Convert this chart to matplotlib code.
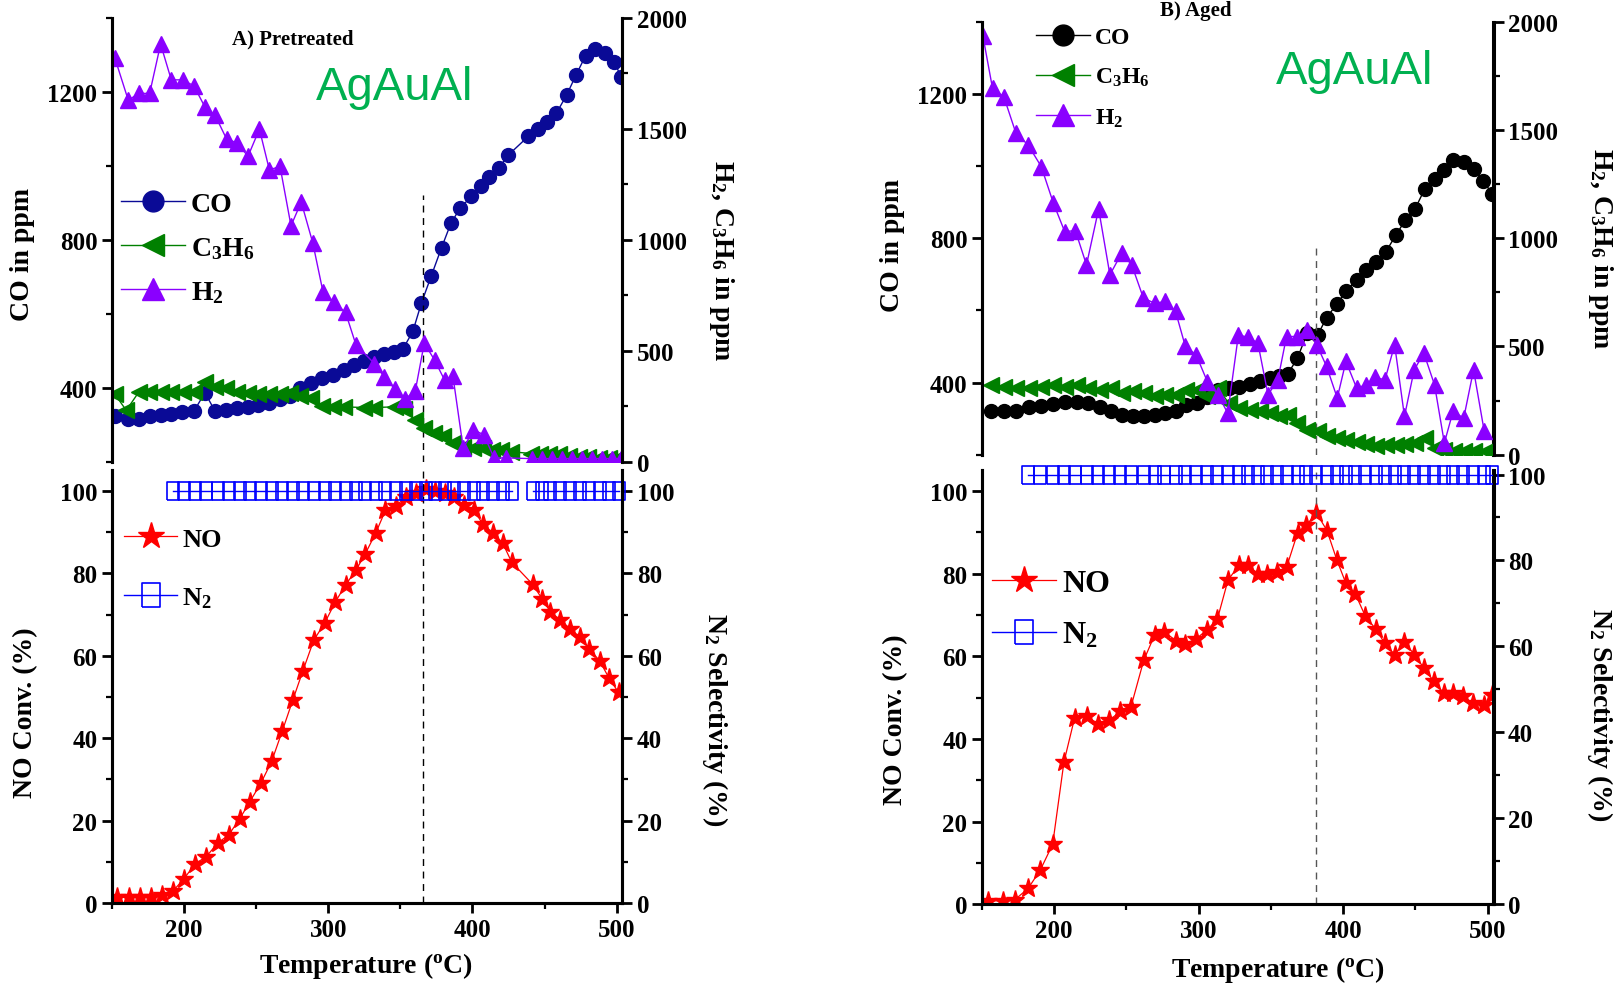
import numpy as np
import matplotlib
matplotlib.use("Agg")
import matplotlib.pyplot as plt
from matplotlib.ticker import MultipleLocator

plt.rcParams['font.family'] = ['Liberation Serif', 'DejaVu Serif']
plt.rcParams['font.weight'] = 'bold'
plt.rcParams['mathtext.fontset'] = 'custom'
plt.rcParams['mathtext.rm'] = 'Liberation Serif:bold'
plt.rcParams['mathtext.it'] = 'Liberation Serif:bold'
plt.rcParams['mathtext.bf'] = 'Liberation Serif:bold'
plt.rcParams['mathtext.default'] = 'rm'

# ---------------- A) Pretreated ----------------
T_co_a = [152, 161.4, 168.5, 176.2, 183.8, 191.2, 198.9, 206.9, 214.5, 221.6,
          228.8, 236.7, 244.4, 251.5, 259.2, 266.6, 273.4, 280.5, 287.9, 295.6,
          303.2, 310.6, 317.7, 324.8, 332, 339, 345.3, 351.8, 358.7, 364.6,
          371.5, 378.6, 385.1, 391.7, 399.3, 405.6, 411.6, 418.4, 424.9, 438.6,
          445.4, 451.9, 458.2, 465.3, 471.8, 478.4, 485.2, 491.7, 498.3, 503]
co_a = [324, 317, 317, 324, 326, 330, 334, 337, 387, 337,
        340, 346, 349, 355, 360, 369, 378, 400, 413, 427,
        436, 449, 463, 472, 483, 492, 496, 505, 553, 629,
        703, 779, 845, 887, 917, 944, 969, 995, 1029, 1079,
        1098, 1119, 1142, 1191, 1245, 1297, 1314, 1305, 1281, 1240]

T_c3_a = [152, 160, 168.5, 176, 183.8, 191.2, 199, 206.9, 214.5, 221.6,
          228.8, 236.7, 244.4, 251.5, 259.2, 266.6, 273.4, 280.5, 287.9, 295.6,
          303.2, 310.6, 324.8, 332, 346, 352.4, 360.4, 366.6, 373.2, 379.4,
          386.5, 393.6, 400.7, 407, 413.5, 420, 427, 440.6, 446.8, 453.3,
          460, 467, 474, 480.4, 487.5, 494.5, 500.8]
c3_a = [306, 232, 313, 313, 313, 313, 316, 316, 362, 336,
        332, 316, 309, 306, 306, 306, 309, 298, 290, 252,
        248, 248, 245, 245, 248, 240, 187, 153, 130, 115,
        84, 69, 61, 61, 54, 54, 46, 38, 38, 34,
        34, 28, 23, 23, 18, 18, 18]

T_h2_a = [152, 161.4, 168.5, 176.2, 183.8, 191.2, 199, 206.9, 214.5, 221.6,
          229.6, 236.7, 244.4, 252.3, 259.2, 266.6, 274.2, 281.3, 289.3, 296.4,
          304.1, 312, 319.2, 332, 339, 346.1, 353.3, 360.4, 366.6, 373.7,
          380.8, 386.5, 393.6, 400.7, 407.9, 415, 423.5, 441.4, 448, 455,
          462, 469, 476, 483, 490, 497, 503]
h2_a = [1820, 1628, 1659, 1659, 1881, 1720, 1720, 1693, 1598, 1560,
        1453, 1437, 1376, 1498, 1315, 1330, 1063, 1170, 986, 765,
        719, 673, 528, 443, 382, 329, 283, 321, 535, 459,
        367, 385, 61, 145, 122, 18, 18, 15, 15, 15,
        15, 15, 15, 15, 15, 15, 15]

T_no_a = [153.5, 161.6, 169.8, 177.3, 185, 192.5, 200, 207.8, 215.3, 223.4,
          230.9, 238.7, 245.5, 253.3, 260.8, 268.2, 275.4, 282.5, 290, 297.5,
          305, 312.1, 319.3, 325.8, 333, 339.7, 346.9, 354, 361, 368,
          374, 381, 387, 394, 401.2, 407, 414.2, 421, 427.2, 441.8,
          448.3, 454.1, 461, 467.5, 474.6, 481.1, 488.3, 494.8, 501.3]
no_a = [1.4, 1.4, 1.4, 1.4, 1.9, 3, 5.9, 9.6, 11.2, 14.6,
        16.5, 20.5, 24.5, 29.1, 34.4, 41.8, 49.2, 56.4, 63.8, 67.9,
        73.1, 77.2, 80.8, 84.8, 89.8, 95.3, 96.4, 98.5, 99.5, 100.5,
        100, 99.5, 98.5, 96.6, 95.3, 92, 89.8, 87.3, 82.7, 77.3,
        73.8, 70.6, 68.7, 66.6, 64.5, 61.7, 58.7, 54.5, 51.1]

# N2 selectivity, two blocks (gap near 434 C)
T_n2_a1 = T_no_a[5:39]
T_n2_a2 = T_no_a[39:]
n2_a1 = [100] * len(T_n2_a1)
n2_a2 = [100] * len(T_n2_a2)

# ---------------- B) Aged ----------------
T_co_b = [156, 165.2, 173.6, 182.7, 191.1, 199.5, 207.3, 215.7, 223.4, 231.5,
          239.3, 247, 254.4, 262.2, 269.6, 277, 284, 291.5, 298.9, 306,
          313.4, 320.8, 327.8, 335.2, 342.7, 349.7, 355.5, 361.5, 368.3, 375,
          382.4, 388.5, 395.9, 401.9, 409.3, 416.1, 422.8, 429.5, 436.3, 443,
          449.8, 456.5, 463.2, 470, 476, 483.4, 490.2, 496.9, 503]
co_b = [322, 322, 322, 331, 336, 340, 347, 347, 343, 331,
        320, 311, 306, 306, 311, 315, 322, 338, 343, 360,
        380, 384, 389, 395, 403, 412, 417, 423, 467, 536,
        532, 580, 619, 654, 684, 712, 735, 762, 808, 850,
        882, 937, 965, 988, 1016, 1011, 993, 960, 923]

T_c3_b = [156, 165, 173.6, 182.7, 191, 199.5, 207.3, 215.7, 223.4, 231.5,
          239.3, 247, 254.4, 262.2, 269.6, 277, 284, 291.5, 298.9, 306,
          313.4, 320.8, 327.8, 335.2, 342.7, 349.7, 355.5, 361.5, 368.3, 375,
          382.4, 388.5, 396, 402, 409.3, 416, 422.8, 429.5, 436.3, 443,
          449.8, 456.5, 463.2, 470, 476.7, 483.4, 490.8, 498.6]
c3_b = [323, 315, 308, 308, 315, 323, 315, 323, 308, 300,
        308, 285, 292, 285, 269, 277, 277, 300, 300, 269,
        308, 238, 215, 208, 200, 192, 177, 185, 146, 115,
        108, 85, 77, 69, 58, 49, 38, 46, 46, 49,
        54, 77, 31, 23, 18, 18, 18, 18]

T_h2_b = [150.7, 157.4, 165.2, 173.6, 182, 191.1, 199.5, 207.3, 214.7, 222.4,
          230.8, 238.6, 246.7, 253.7, 261.8, 269.6, 277, 284, 290.8, 298.2,
          306, 313.4, 320.1, 327.5, 334.2, 341, 348, 354.8, 360.8, 368.3,
          375, 381.7, 388.5, 395.9, 401.9, 409.3, 416.1, 422.1, 428.9, 435.6,
          442.4, 449.1, 455.8, 463.2, 470, 476, 483.4, 490.2, 497.6]
h2_b = [1935, 1692, 1654, 1485, 1431, 1331, 1162, 1031, 1035, 877,
        1135, 831, 931, 877, 723, 700, 708, 662, 500, 462,
        338, 277, 192, 554, 542, 515, 277, 346, 546, 546,
        577, 508, 408, 262, 431, 308, 323, 357, 346, 508,
        177, 392, 469, 323, 54, 200, 169, 392, 108]

T_no_b = [154.2, 164.4, 172.9, 182, 190.5, 199, 206.8, 214.2, 222.7, 230.5,
          238.3, 245.8, 253.2, 262, 269.5, 276.3, 284.1, 290.8, 298.3, 305.8,
          312.9, 320.3, 327.8, 333.9, 341.4, 347.5, 354.2, 361, 368.5, 374.6,
          381.4, 388.8, 395.6, 401.7, 408.5, 415.3, 422.7, 428.8, 435.6, 442.4,
          449.2, 455.9, 462.7, 469.5, 476.3, 483, 489.8, 497.6, 502.7]
no_b = [0.8, 0.8, 1.1, 3.8, 8.3, 14.5, 34.4, 45.1, 45.6, 43.5,
        44.5, 46.7, 47.8, 59, 65.1, 65.9, 63.8, 63, 64.2, 66.4,
        68.9, 78.4, 82, 82, 79.9, 79.9, 80.3, 81.7, 89.9, 91.7,
        94.7, 90.4, 83.3, 77.8, 75, 69.7, 66.5, 63.1, 60.4, 63.4,
        60.4, 57.1, 53.9, 51.1, 51.1, 50.3, 48.6, 48.2, 50.7]

T_n2_b = T_no_b[3:]
n2_b = [100] * len(T_n2_b)

# ---------------- figure ----------------
W, H = 1568, 953
fig = plt.figure(figsize=(16.24, 9.87), dpi=100)


def rect(x0, y0, x1, y1):
    return [x0 / W, 1 - y1 / H, (x1 - x0) / W, (y1 - y0) / H]


GREEN = '#008000'
PURPLE = '#8a00ff'
RED = '#ff0000'
BLUE = '#0000ff'
TALL_BOX = [(-0.36, -0.5), (0.36, -0.5), (0.36, 0.5), (-0.36, 0.5), (-0.36, -0.5)]


def style(ax):
    ax.tick_params(which='major', direction='out', length=7, width=2, labelsize=18)
    ax.tick_params(which='minor', direction='out', length=4, width=1.6)
    for s in ax.spines.values():
        s.set_linewidth(2.2)


def panel(top_box, bot_box, co_color, T_co, co, T_c3, c3, T_h2, h2,
          T_no, no, n2_blocks, r2_top, t_dash, dash_frac, dash_color,
          leg_top, leg_top_fs, leg_top_sp, leg_bot, leg_bot_fs, leg_bot_sp):
    # upper: CO (left), C3H6 + H2 (right)
    ax = fig.add_axes(rect(*top_box))
    ax2 = ax.twinx()
    l1, = ax.plot(T_co, co, '-o', color=co_color, ms=10, lw=1, label='CO')
    l2, = ax2.plot(T_c3, c3, '-<', color=GREEN, ms=11, lw=1, label='C$_3$H$_6$')
    l3, = ax2.plot(T_h2, h2, '-^', color=PURPLE, ms=11, lw=1, label='H$_2$')
    ax.set_xlim(150, 504)
    ax.set_ylim(200, 1400)
    ax2.set_ylim(0, 2000)
    ax.yaxis.set_major_locator(MultipleLocator(400))
    ax.yaxis.set_minor_locator(MultipleLocator(200))
    ax2.yaxis.set_major_locator(MultipleLocator(500))
    ax2.yaxis.set_minor_locator(MultipleLocator(250))
    for a in (ax, ax2):
        style(a)
        a.spines['top'].set_visible(False)
        a.spines['bottom'].set_visible(False)
        a.tick_params(axis='x', which='both', bottom=False, labelbottom=False)
    ax.axvline(t_dash, ymax=dash_frac, color=dash_color, ls=(0, (5, 4)), lw=1)
    ax2.legend([l1, l2, l3], [l1.get_label(), l2.get_label(), l3.get_label()],
               loc='upper left', bbox_to_anchor=(leg_top[0] / W, 1 - leg_top[1] / H),
               bbox_transform=fig.transFigure, frameon=False, fontsize=leg_top_fs,
               handlelength=2.3, handletextpad=0.2, labelspacing=leg_top_sp,
               borderpad=0, borderaxespad=0, markerscale=1.5)

    # lower: NO conversion (left), N2 selectivity (right)
    bx = fig.add_axes(rect(*bot_box))
    bx2 = bx.twinx()
    m1, = bx.plot(T_no, no, '-*', color=RED, ms=14, lw=0.9, label='NO')
    for tt, vv in n2_blocks:
        m2, = bx2.plot(tt, vv, '-', marker=TALL_BOX, color=BLUE, mfc='none',
                       ms=12.5, mew=1.2, lw=1, label='N$_2$', clip_on=False)
    bx.set_xlim(150, 504)
    bx.set_ylim(0, 105)
    bx2.set_ylim(0, r2_top)
    for a in (bx, bx2):
        style(a)
        a.spines['top'].set_visible(False)
        a.yaxis.set_major_locator(MultipleLocator(20))
        a.yaxis.set_minor_locator(MultipleLocator(10))
    bx.xaxis.set_major_locator(MultipleLocator(100))
    bx.xaxis.set_minor_locator(MultipleLocator(50))
    bx.axvline(t_dash, color=dash_color, ls=(0, (5, 4)), lw=1)
    bx2.legend([m1, m2], ['NO', 'N$_2$'], loc='upper left',
               bbox_to_anchor=(leg_bot[0] / W, 1 - leg_bot[1] / H),
               bbox_transform=fig.transFigure, frameon=False, fontsize=leg_bot_fs,
               handlelength=2.0, handletextpad=0.2, labelspacing=leg_bot_sp,
               borderpad=0, borderaxespad=0, markerscale=1.4)


panel((108, 18, 601, 447), (108, 455, 601, 873), '#0a0a96',
      T_co_a, co_a, T_c3_a, c3_a, T_h2_a, h2_a, T_no_a, no_a,
      [(T_n2_a1, n2_a1), (T_n2_a2, n2_a2)], 105, 366, 0.6, 'black',
      (117, 186), 20, 0.65, (120, 510), 19, 1.3)

panel((948, 22, 1442, 440), (948, 455, 1442, 874), 'black',
      T_co_b, co_b, T_c3_b, c3_b, T_h2_b, h2_b, T_no_b, no_b,
      [(T_n2_b, n2_b)], 101, 381, 0.49, '#555555',
      (1000, 27), 17, 0.75, (958, 550), 23, 0.7)

# labels
lab = dict(fontsize=20, fontweight='bold', ha='center', va='center')
fig.text(22 / W, 1 - 246 / H, 'CO in ppm', rotation=90, **lab)
fig.text(25 / W, 1 - 688 / H, 'NO Conv. (%)', rotation=90, **lab)
fig.text(697 / W, 1 - 252 / H, 'H$_2$, C$_3$H$_6$ in ppm', rotation=270, **lab)
fig.text(690 / W, 1 - 695 / H, 'N$_2$ Selectivity (%)', rotation=270, **lab)
fig.text(353 / W, 1 - 933 / H, 'Temperature ($^{o}$C)', **lab)

fig.text(862 / W, 1 - 237 / H, 'CO in ppm', rotation=90, **lab)
fig.text(865 / W, 1 - 695 / H, 'NO Conv. (%)', rotation=90, **lab)
fig.text(1545 / W, 1 - 240 / H, 'H$_2$, C$_3$H$_6$ in ppm', rotation=270, **lab)
fig.text(1545 / W, 1 - 690 / H, 'N$_2$ Selectivity (%)', rotation=270, **lab)
fig.text(1234 / W, 1 - 937 / H, 'Temperature ($^{o}$C)', **lab)

fig.text(283 / W, 1 - 38 / H, 'A) Pretreated', fontsize=15, fontweight='bold',
         ha='center', va='center')
fig.text(1155 / W, 1 - 1 / H, 'B) Aged', fontsize=15, fontweight='bold',
         ha='center', va='top')

fig.text(381 / W, 1 - 85 / H, 'AgAuAl', fontsize=34, color='#00b050',
         family='Liberation Sans', fontweight='normal', ha='center', va='center')
fig.text(1308 / W, 1 - 70 / H, 'AgAuAl', fontsize=34, color='#00b050',
         family='Liberation Sans', fontweight='normal', ha='center', va='center')

fig.savefig('out.png', dpi=100)
